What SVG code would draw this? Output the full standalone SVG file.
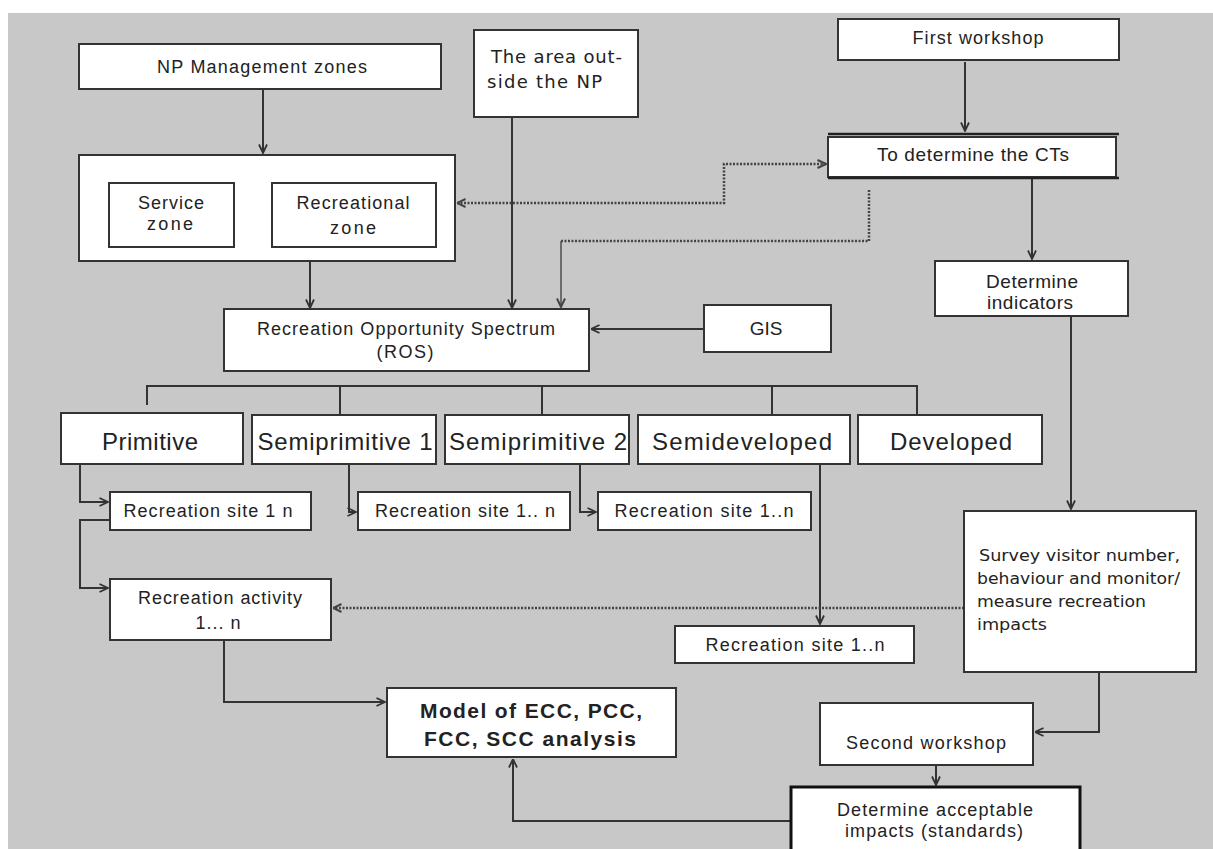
<svg xmlns="http://www.w3.org/2000/svg" width="1213" height="849" viewBox="0 0 1213 849">
<style>
.box{fill:#fff;stroke:#333;stroke-width:2}
.t{font-family:"Liberation Sans",Arial,sans-serif;fill:#222;text-anchor:middle}
.v{font-family:"DejaVu Sans",Verdana,sans-serif;fill:#222}
.c{fill:none;stroke:#333;stroke-width:2}
.d{fill:none;stroke:#444;stroke-width:2.5;stroke-dasharray:2 1.5}
</style>
<defs>
<marker id="a" viewBox="0 0 10 10" refX="9.5" refY="5" markerWidth="10" markerHeight="10" markerUnits="userSpaceOnUse" orient="auto-start-reverse">
<path d="M1,1 L9.5,5 L1,9" fill="none" stroke="#333" stroke-width="1.8"/>
</marker>
<marker id="ag" viewBox="0 0 10 10" refX="9.5" refY="5" markerWidth="10" markerHeight="10" markerUnits="userSpaceOnUse" orient="auto-start-reverse">
<path d="M1,1 L9.5,5 L1,9" fill="none" stroke="#444" stroke-width="2"/>
</marker>
</defs>
<rect x="0" y="0" width="1213" height="849" fill="#fff"/>
<rect x="8" y="13" width="1205" height="836" fill="#c8c8c8"/>

<g id="connectors">
<path class="c" d="M263,90 V153" marker-end="url(#a)"/>
<path class="c" d="M310,261 V308" marker-end="url(#a)"/>
<path class="c" d="M512,117 V308" marker-end="url(#a)"/>
<path class="d" d="M457,203 H724 V164 H826" marker-start="url(#ag)" marker-end="url(#ag)"/>
<path class="d" d="M869,190 V241 H561"/>
<path fill="none" stroke="#555" stroke-width="1.6" d="M561,241 V307" marker-end="url(#ag)"/>
<path class="c" d="M704,329 H591" marker-end="url(#a)"/>
<path class="c" d="M965,62 V131" marker-end="url(#a)"/>
<path class="c" d="M1032,179 V259" marker-end="url(#a)"/>
<path class="c" d="M1071,316 V509" marker-end="url(#a)"/>
<path class="c" d="M147,405 V386 H917 V415 M340,386 V415 M542,386 V415 M772,386 V415"/>
<path class="c" d="M80,464 V502 H108" marker-end="url(#a)"/>
<path class="c" d="M110,520 H80 V588 H108" marker-end="url(#a)"/>
<path class="c" d="M349,464 V512 H356" marker-end="url(#a)"/>
<path class="c" d="M580,464 V512 H596" marker-end="url(#a)"/>
<path class="c" d="M820,464 V624" marker-end="url(#a)"/>
<path class="d" d="M964,608 H333" marker-end="url(#ag)"/>
<path class="c" d="M224,640 V702 H385" marker-end="url(#a)"/>
<path class="c" d="M1099,672 V732 H1035" marker-end="url(#a)"/>
<path class="c" d="M936,765 V785" marker-end="url(#a)"/>
<path class="c" d="M790,821 H513 V759" marker-end="url(#a)"/>
</g>

<g id="np-zones">
<rect class="box" x="79" y="44" width="362" height="45"/>
<text class="t" x="262" y="73" font-size="18" textLength="210" lengthAdjust="spacing">NP Management zones</text>
</g>
<g id="zones">
<rect class="box" x="79" y="155" width="376" height="106"/>
</g>
<g id="service-zone">
<rect class="box" x="109" y="183" width="125" height="64"/>
<text class="t" x="171" y="209" font-size="18" textLength="66" lengthAdjust="spacing">Service</text>
<text class="t" x="170" y="230" font-size="18" textLength="46" lengthAdjust="spacing">zone</text>
</g>
<g id="recreational-zone">
<rect class="box" x="272" y="183" width="164" height="64"/>
<text class="t" x="353" y="209" font-size="18" textLength="113" lengthAdjust="spacing">Recreational</text>
<text class="t" x="353" y="234" font-size="18" textLength="46" lengthAdjust="spacing">zone</text>
</g>
<g id="area-outside">
<rect class="box" x="474" y="30" width="164" height="87"/>
<text class="v" x="491" y="63" font-size="18" textLength="131" lengthAdjust="spacing">The area out-</text>
<text class="v" x="487" y="88" font-size="18" textLength="115" lengthAdjust="spacing">side the NP</text>
</g>
<g id="first-workshop">
<rect class="box" x="838" y="19" width="281" height="41"/>
<text class="t" x="978" y="44" font-size="18" textLength="131" lengthAdjust="spacing">First workshop</text>
</g>
<g id="determine-cts">
<rect class="box" x="828" y="137" width="288" height="40"/>
<path d="M828,134 H1119 M828,178 H1119" stroke="#222" stroke-width="2.5"/>
<text class="t" x="973" y="161" font-size="19" textLength="192" lengthAdjust="spacing">To determine the CTs</text>
</g>
<g id="determine-indicators">
<rect class="box" x="935" y="261" width="193" height="55"/>
<text class="t" x="1032" y="288" font-size="19" textLength="92" lengthAdjust="spacing">Determine</text>
<text class="t" x="1030" y="309" font-size="19" textLength="86" lengthAdjust="spacing">indicators</text>
</g>
<g id="ros">
<rect class="box" x="224" y="309" width="365" height="62"/>
<text class="t" x="406" y="335" font-size="18" textLength="298" lengthAdjust="spacing">Recreation Opportunity Spectrum</text>
<text class="t" x="405" y="358" font-size="18" textLength="57" lengthAdjust="spacing">(ROS)</text>
</g>
<g id="gis">
<rect class="box" x="704" y="305" width="127" height="47"/>
<text class="t" x="766" y="335" font-size="19">GIS</text>
</g>
<g id="primitive">
<rect class="box" x="61" y="413" width="182" height="51"/>
<text class="t" x="150" y="450" font-size="24" textLength="96" lengthAdjust="spacing">Primitive</text>
</g>
<g id="semiprimitive-1">
<rect class="box" x="252" y="415" width="184" height="49"/>
<text class="t" x="345" y="450" font-size="24" textLength="175" lengthAdjust="spacing">Semiprimitive 1</text>
</g>
<g id="semiprimitive-2">
<rect class="box" x="445" y="415" width="184" height="49"/>
<text class="t" x="538" y="450" font-size="24" textLength="178" lengthAdjust="spacing">Semiprimitive 2</text>
</g>
<g id="semideveloped">
<rect class="box" x="638" y="415" width="212" height="49"/>
<text class="t" x="742" y="450" font-size="24" textLength="180" lengthAdjust="spacing">Semideveloped</text>
</g>
<g id="developed">
<rect class="box" x="858" y="415" width="184" height="49"/>
<text class="t" x="951" y="450" font-size="24" textLength="122" lengthAdjust="spacing">Developed</text>
</g>
<g id="site-primitive">
<rect class="box" x="110" y="492" width="201" height="38"/>
<text class="t" x="208" y="517" font-size="18" textLength="169" lengthAdjust="spacing">Recreation site 1 n</text>
</g>
<g id="site-semi1">
<rect class="box" x="358" y="492" width="212" height="38"/>
<text class="t" x="465" y="517" font-size="18" textLength="180" lengthAdjust="spacing">Recreation site 1.. n</text>
</g>
<g id="site-semi2">
<rect class="box" x="598" y="492" width="213" height="38"/>
<text class="t" x="704" y="517" font-size="18" textLength="179" lengthAdjust="spacing">Recreation site  1..n</text>
</g>
<g id="recreation-activity">
<rect class="box" x="110" y="579" width="221" height="61"/>
<text class="t" x="220" y="604" font-size="18" textLength="164" lengthAdjust="spacing">Recreation activity</text>
<text class="t" x="218" y="629" font-size="18" textLength="45" lengthAdjust="spacing">1... n</text>
</g>
<g id="site-semidev">
<rect class="box" x="675" y="626" width="239" height="37"/>
<text class="t" x="795" y="651" font-size="18" textLength="179" lengthAdjust="spacing">Recreation site  1..n</text>
</g>
<g id="survey">
<rect class="box" x="964" y="511" width="232" height="161"/>
<text class="v" x="979" y="561" font-size="16" textLength="201" lengthAdjust="spacingAndGlyphs">Survey  visitor number,</text>
<text class="v" x="977" y="584" font-size="16" textLength="203" lengthAdjust="spacingAndGlyphs">behaviour and monitor/</text>
<text class="v" x="977" y="607" font-size="16" textLength="169" lengthAdjust="spacingAndGlyphs">measure recreation</text>
<text class="v" x="977" y="630" font-size="16" textLength="70" lengthAdjust="spacingAndGlyphs">impacts</text>
</g>
<g id="model">
<rect class="box" x="387" y="688" width="289" height="69"/>
<text class="t" x="531" y="718" font-size="21" font-weight="bold" textLength="222" lengthAdjust="spacing">Model of ECC, PCC,</text>
<text class="t" x="530" y="746" font-size="21" font-weight="bold" textLength="212" lengthAdjust="spacing">FCC, SCC analysis</text>
</g>
<g id="second-workshop">
<rect class="box" x="820" y="703" width="213" height="62"/>
<text class="t" x="926" y="749" font-size="18" textLength="160" lengthAdjust="spacing">Second workshop</text>
</g>
<g id="determine-acceptable">
<rect x="791" y="787" width="289" height="80" fill="#fff" stroke="#111" stroke-width="3"/>
<text class="t" x="935" y="816" font-size="18" textLength="196" lengthAdjust="spacing">Determine acceptable</text>
<text class="t" x="934" y="837" font-size="18" textLength="178" lengthAdjust="spacing">impacts (standards)</text>
</g>
</svg>
